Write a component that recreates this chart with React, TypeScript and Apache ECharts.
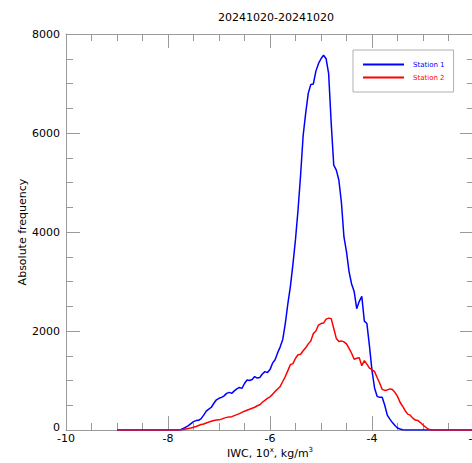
import React, { useEffect, useRef } from "react";
import * as echarts from "echarts";

const TITLE = "20241020-20241020";
const X_NAME = "IWC, 10{sup|x}, kg/m{sup|3}";
const Y_NAME = "Absolute frequency";
const SERIES_NAMES = ["Station 1", "Station 2"];

// x positions (log10 IWC)
const xs = [
  -9.0, -7.8, -7.75, -7.7, -7.65, -7.6, -7.55, -7.5, -7.45, -7.4, -7.35, -7.3, -7.25, -7.2, -7.15, -7.1,
  -7.05, -7.0, -6.95, -6.9, -6.85, -6.8, -6.75, -6.7, -6.65, -6.6, -6.55, -6.5, -6.45, -6.4, -6.35,
  -6.3, -6.25, -6.2, -6.15, -6.1, -6.05, -6.0, -5.95, -5.9, -5.85, -5.8, -5.75, -5.7, -5.65, -5.6,
  -5.55, -5.5, -5.45, -5.4, -5.35, -5.3, -5.25, -5.2, -5.15, -5.1, -5.05, -5.0, -4.95, -4.9, -4.85,
  -4.8, -4.75, -4.7, -4.65, -4.6, -4.55, -4.5, -4.45, -4.4, -4.35, -4.3, -4.25, -4.2, -4.15, -4.1,
  -4.05, -4.0, -3.95, -3.9, -3.85, -3.8, -3.75, -3.7, -3.65, -3.6, -3.55, -3.5, -3.45, -3.4, -3.35,
  -3.3, -3.25, -3.2, -3.15, -3.1, -3.05, -3.0, -2.95, -2.9, -2.85, -2.0,
];

const station1 = [
  0, 0, 5, 30, 60, 90, 130, 170, 190, 195, 230, 300, 380, 420, 460, 540,
  610, 640, 660, 690, 740, 760, 740, 790, 830, 860, 840, 940, 1010, 1000, 1020,
  1080, 1050, 1060, 1130, 1180, 1160, 1220, 1350, 1420, 1560, 1680, 1830, 2150, 2550, 2900,
  3350, 3850, 4450, 5150, 5950, 6400, 6800, 6980, 6990, 7250, 7400, 7500, 7570, 7500, 7200,
  6200, 5350, 5250, 5050, 4600, 3900, 3600, 3200, 2950, 2800, 2450, 2600, 2700, 2200, 2150,
  1700, 1200, 850, 680, 660, 660, 500, 300, 220, 150, 90, 40, 20, 5, 0,
  0, 0, 0, 0, 0, 0, 0, 0, 0, 0, 0,
];

const station2 = [
  0, 0, 3, 10, 20, 30, 40, 55, 70, 90, 110, 120, 140, 160, 175, 190,
  200, 205, 220, 240, 255, 265, 270, 290, 310, 330, 355, 380, 400, 420, 440,
  460, 490, 510, 560, 600, 640, 670, 720, 780, 830, 880, 980, 1080, 1200, 1320,
  1340, 1450, 1520, 1530, 1600, 1660, 1740, 1800, 1950, 2000, 2120, 2150, 2160, 2240, 2260,
  2250, 2050, 1850, 1790, 1800, 1780, 1740, 1650, 1550, 1430, 1450, 1460, 1300, 1400, 1330,
  1250, 1220, 1180, 1060, 950, 820, 800, 810, 830, 820, 760, 680, 560, 480, 390,
  320, 300, 240, 200, 190, 150, 100, 60, 20, 0, 0,
];

const X_MIN = -10;
const X_MAX = -2;
const Y_MIN = 0;
const Y_MAX = 8000;

const FONT = "DejaVu Sans";
const AXIS_GREY = "#9a9a9a";

export default function App() {
  const ref = useRef<HTMLDivElement>(null);

  useEffect(() => {
    if (!ref.current) return;
    const chart = echarts.init(ref.current, undefined, { renderer: "svg" });

    const majorTick = {
      show: true,
      inside: true,
      length: 14,
      lineStyle: { color: AXIS_GREY, width: 1 },
    };
    const minorTick = {
      show: true,
      splitNumber: 4,
      length: 7,
      lineStyle: { color: AXIS_GREY, width: 1 },
    };

    const xCommon = {
      type: "value" as const,
      min: X_MIN,
      max: X_MAX,
      interval: 2,
      axisLine: { show: true, onZero: false, lineStyle: { color: AXIS_GREY, width: 1 } },
      axisTick: majorTick,
      minorTick,
      splitLine: { show: false },
    };
    const yCommon = {
      type: "value" as const,
      min: Y_MIN,
      max: Y_MAX,
      interval: 2000,
      axisLine: { show: true, onZero: false, lineStyle: { color: AXIS_GREY, width: 1 } },
      axisTick: majorTick,
      minorTick,
      splitLine: { show: false },
    };

    chart.setOption({
      animation: false,
      backgroundColor: "#ffffff",
      textStyle: { fontFamily: FONT },
      title: {
        text: TITLE,
        left: 213,
        top: 7,
        textStyle: { fontFamily: FONT, fontSize: 11, fontWeight: "normal", color: "#000" },
      },
      legend: {
        left: 353,
        top: 50,
        orient: "vertical",
        icon: "rect",
        itemWidth: 41,
        itemHeight: 2,
        itemGap: 6,
        padding: [11, 9, 11, 10],
        borderColor: "#b0b0b0",
        borderWidth: 1,
        backgroundColor: "#fff",
        data: [
          { name: SERIES_NAMES[0], textStyle: { color: "#0000ff" } },
          { name: SERIES_NAMES[1], textStyle: { color: "#ff0000" } },
        ],
        textStyle: { fontFamily: FONT, fontSize: 7, padding: [0, 0, 0, 4] },
      },
      grid: { left: 66, top: 34, width: 408, height: 396, outerBoundsMode: "none", containLabel: false },
      xAxis: [
        {
          ...xCommon,
          position: "bottom",
          name: X_NAME,
          nameLocation: "middle",
          nameGap: 16,
          nameMoveOverlap: false,
          nameTextStyle: {
            fontFamily: FONT,
            fontSize: 11,
            color: "#000",
            rich: {
              sup: { fontFamily: FONT, fontSize: 7, color: "#000", padding: [0, 0, 7, 0] },
            },
          },
          axisLabel: {
            color: "#000",
            fontSize: 11,
            fontFamily: FONT,
            margin: 3,
            formatter: (v: number) => String(v),
          },
        },
        {
          ...xCommon,
          position: "top",
          axisLabel: { show: false },
        },
      ],
      yAxis: [
        {
          ...yCommon,
          position: "left",
          name: Y_NAME,
          nameLocation: "middle",
          nameGap: 38,
          nameMoveOverlap: false,
          nameTextStyle: { fontFamily: FONT, fontSize: 11, color: "#000" },
          axisLabel: {
            color: "#000",
            fontSize: 11,
            fontFamily: FONT,
            margin: 6,
            formatter: (v: number) => (v === 0 ? "{z|0}" : String(v)),
            rich: { z: { fontFamily: FONT, fontSize: 11, color: "#000", padding: [0, 0, 5, 0] } },
          },
        },
        {
          ...yCommon,
          position: "right",
          axisLabel: { show: false },
        },
      ],
      series: [
        {
          name: SERIES_NAMES[0],
          type: "line",
          xAxisIndex: 0,
          yAxisIndex: 0,
          showSymbol: false,
          symbol: "none",
          lineStyle: { color: "#0000ff", width: 1.5 },
          itemStyle: { color: "#0000ff" },
          data: xs.map((x, i) => [x, station1[i]]),
        },
        {
          name: SERIES_NAMES[1],
          type: "line",
          xAxisIndex: 0,
          yAxisIndex: 0,
          showSymbol: false,
          symbol: "none",
          lineStyle: { color: "#ff0000", width: 1.5 },
          itemStyle: { color: "#ff0000" },
          data: xs.map((x, i) => [x, station2[i]]),
        },
      ],
    });

    return () => chart.dispose();
  }, []);

  return (
    <div
      ref={ref}
      style={{ position: "fixed", left: 0, top: 0, width: 472, height: 463, background: "#fff" }}
    />
  );
}
